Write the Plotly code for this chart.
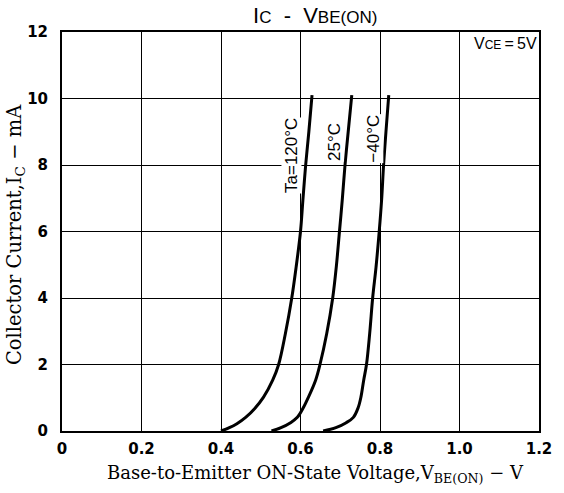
import plotly.graph_objects as go

# ---- data ----
v_120 = [0.400, 0.421, 0.440, 0.462, 0.485, 0.507, 0.530, 0.545, 0.562, 0.578, 0.589, 0.600, 0.606, 0.613, 0.621, 0.629]
i_120 = [0.0, 0.10, 0.22, 0.41, 0.68, 1.02, 1.53, 2.0, 2.93, 4.0, 4.93, 6.0, 6.94, 8.0, 9.0, 10.1]

v_25 = [0.527, 0.551, 0.575, 0.592, 0.607, 0.620, 0.638, 0.649, 0.666, 0.681, 0.690, 0.698, 0.705, 0.712, 0.720, 0.729]
i_25 = [0.0, 0.10, 0.25, 0.41, 0.70, 1.02, 1.53, 2.0, 2.93, 4.0, 4.93, 6.0, 6.94, 8.0, 9.0, 10.1]

v_m40 = [0.657, 0.689, 0.715, 0.733, 0.745, 0.752, 0.759, 0.766, 0.774, 0.7815, 0.790, 0.798, 0.804, 0.809, 0.815, 0.822]
i_m40 = [0.0, 0.10, 0.25, 0.41, 0.70, 1.02, 1.53, 2.0, 2.93, 4.0, 4.93, 6.0, 6.94, 8.0, 9.0, 10.1]

x_ticks = [0, 0.2, 0.4, 0.6, 0.8, 1.0, 1.2]
x_tick_labels = ["0", "0.2", "0.4", "0.6", "0.8", "1.0", "1.2"]
y_ticks = [0, 2, 4, 6, 8, 10, 12]
y_tick_labels = ["0", "2", "4", "6", "8", "10", "12"]

labels = ["Ta=120°C", "25°C", "−40°C"]
label_v = [0.576, 0.685, 0.783]
label_i = [8.3, 8.7, 8.8]

title_text = "I<span style='font-size:17px'>C</span>\u00a0\u00a0-\u00a0\u00a0V<span style='font-size:17px'>BE(ON)</span>"
x_title = "Base-to-Emitter ON-State Voltage,V<sub>BE(ON)</sub> − V"
y_title = "Collector Current,I<sub>C</sub> − mA"
vce_text = "V<span style='font-size:12px'>CE</span>\u2009=\u20095V"

fig = go.Figure()
for v, i in [(v_120, i_120), (v_25, i_25), (v_m40, i_m40)]:
    fig.add_trace(go.Scatter(x=v, y=i, mode="lines",
                             line=dict(color="black", width=3, shape="spline", smoothing=1.0),
                             showlegend=False, hoverinfo="skip"))

for t, xv, yv in zip(labels, label_v, label_i):
    fig.add_annotation(x=xv, y=yv, text=t, textangle=-90, showarrow=False,
                       font=dict(family="Liberation Sans", size=17, color="black"),
                       bgcolor="white", borderpad=0)

fig.add_annotation(x=1.197, y=11.95, xanchor="right", yanchor="top", showarrow=False,
                   text=vce_text,
                   font=dict(family="Liberation Sans", size=16, color="black"),
                   bgcolor="white", borderpad=0)

fig.add_annotation(xref="paper", yref="paper", x=0.53, y=1.0, yanchor="middle", yshift=17,
                   showarrow=False, text=title_text,
                   font=dict(family="Liberation Sans", size=22, color="black"))

fig.add_annotation(xref="paper", yref="paper", x=0.531, y=0.0, xanchor="center", yanchor="middle",
                   yshift=-43, showarrow=False, text=x_title,
                   font=dict(family="DejaVu Serif", size=18, color="black"))

fig.add_annotation(xref="paper", yref="paper", x=0.0, y=0.491, xanchor="center", yanchor="middle",
                   xshift=-47, textangle=-90, showarrow=False, text=y_title,
                   font=dict(family="DejaVu Serif", size=19.5, color="black"))

fig.update_xaxes(range=[0, 1.2], tickvals=x_ticks, ticktext=x_tick_labels,
                 showgrid=True, gridcolor="black", gridwidth=1,
                 showline=True, linecolor="black", linewidth=1.5, mirror=True,
                 ticks="", zeroline=False, ticklabelstandoff=3,
                 tickfont=dict(family="DejaVu Sans", size=15, color="black", weight="bold"))
fig.update_yaxes(range=[0, 12], tickvals=y_ticks, ticktext=y_tick_labels,
                 showgrid=True, gridcolor="black", gridwidth=1,
                 showline=True, linecolor="black", linewidth=2, mirror=True,
                 ticks="", zeroline=True, zerolinecolor="black", zerolinewidth=3,
                 ticklabelstandoff=9,
                 tickfont=dict(family="DejaVu Sans", size=15, color="black", weight="bold"))

fig.update_layout(width=564, height=493, plot_bgcolor="white", paper_bgcolor="white",
                  margin=dict(l=62, r=14, t=32, b=62))

fig.write_html("out.html")
